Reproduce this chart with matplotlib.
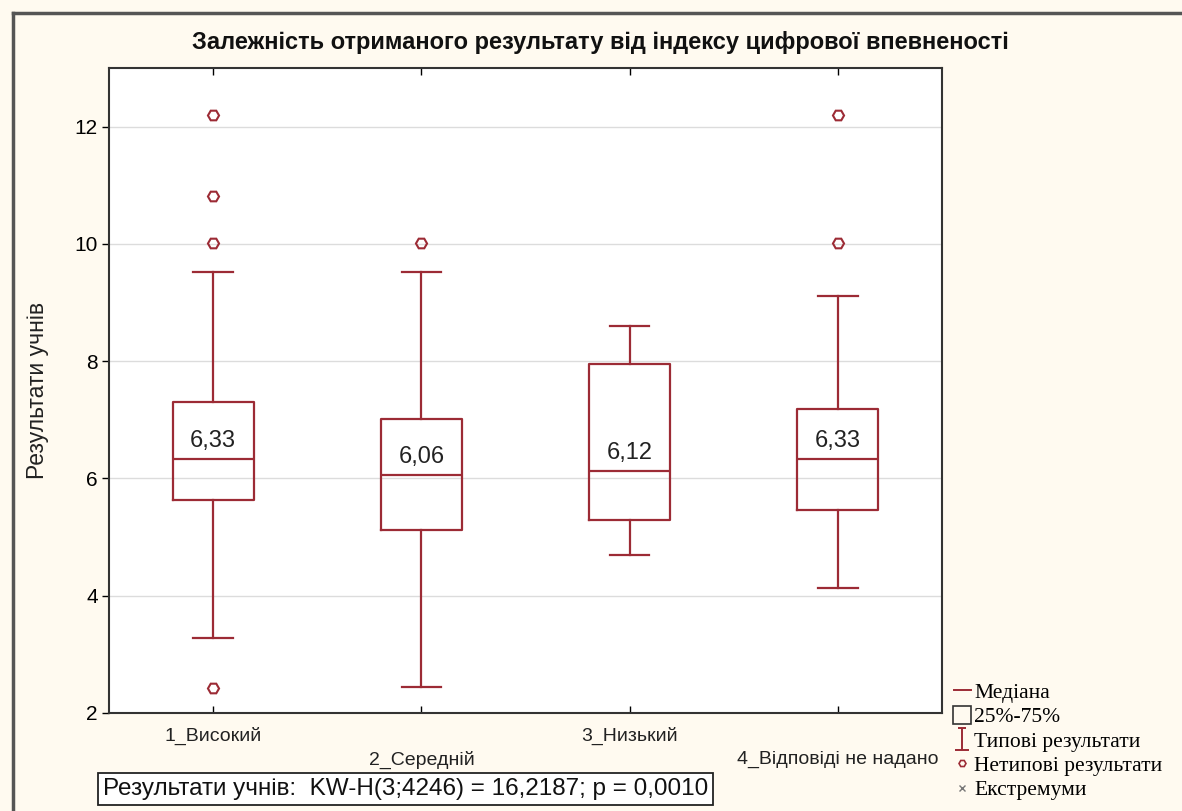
import matplotlib
matplotlib.use("Agg")
from matplotlib import pyplot as plt
from matplotlib.lines import Line2D
from matplotlib.path import Path

# -------------------- Data --------------------
categories = ["1_Високий", "2_Середній", "3_Низький", "4_Відповіді не надано"]
medians = [6.33, 6.06, 6.12, 6.33]
q1 = [5.63, 5.12, 5.29, 5.46]
q3 = [7.31, 7.01, 7.96, 7.18]
whisker_low = [3.28, 2.45, 4.69, 4.13]
whisker_high = [9.52, 9.52, 8.60, 9.12]
outliers = [[12.19, 10.82, 10.02, 2.43], [10.02], [], [12.19, 10.02]]
median_labels = ["6,33", "6,06", "6,12", "6,33"]

title = "Залежність отриманого результату від індексу цифрової впевненості"
y_label = "Результати учнів"
stat_text = "Результати учнів:  KW-H(3;4246) = 16,2187; p = 0,0010"
legend_labels = ["Медіана", "25%-75%", "Типові результати",
                 "Нетипові результати", "Екстремуми"]

# -------------------- Style --------------------
RED = "#9C2B35"
BG = "#FFFAF0"
SANS = ["Liberation Sans", "DejaVu Sans"]
SERIF = ["Liberation Serif", "DejaVu Serif"]

fig = plt.figure(figsize=(11.82, 8.11), dpi=100, facecolor=BG)
ax = fig.add_axes([109 / 1182, 1 - 713 / 811, (942 - 109) / 1182, (713 - 68) / 811])
ax.set_facecolor("white")

stats = []
for i in range(len(categories)):
    stats.append({
        "med": medians[i], "q1": q1[i], "q3": q3[i],
        "whislo": whisker_low[i], "whishi": whisker_high[i],
        "fliers": outliers[i],
    })

positions = list(range(1, len(categories) + 1))
ax.bxp(stats, positions=positions, widths=0.39, showfliers=True,
       boxprops=dict(color=RED, linewidth=1.6),
       medianprops=dict(color=RED, linewidth=1.6),
       whiskerprops=dict(color=RED, linewidth=1.6),
       capprops=dict(color=RED, linewidth=1.6),
       capwidths=0.19,
       flierprops=dict(marker="H", markersize=8, markerfacecolor="none",
                       markeredgecolor=RED, markeredgewidth=1.5))

for pos, med, lab in zip(positions, medians, median_labels):
    ax.text(pos, med + 0.12, lab, ha="center", va="bottom", fontsize=17,
            family=SANS, color="#222222")

ax.set_xlim(0.5, 4.5)
ax.set_ylim(2, 13)
ax.set_yticks([2, 4, 6, 8, 10, 12])
ax.set_yticklabels(["2", "4", "6", "8", "10", "12"], family=SANS, fontsize=15)
ax.yaxis.grid(True, color="#dcdcdc", linewidth=1)
ax.set_axisbelow(True)
ax.tick_params(axis="y", direction="out", length=5, width=1, pad=3)
ax.tick_params(axis="x", direction="in", length=5, width=1, top=True,
               labelbottom=False)
ax.set_xticks(positions)
for spine in ax.spines.values():
    spine.set_linewidth(1.5)
    spine.set_color("#333333")

# staggered category labels
for pos, cat in zip(positions, categories):
    y_off = -0.036 if pos % 2 == 1 else -0.072
    ax.text(pos, y_off, cat, transform=ax.get_xaxis_transform(),
            ha="center", va="center", fontsize=14, family=SANS, color="#222222")

fig.text(0.508, 1 - 42 / 811, title, ha="center", va="center",
         fontsize=17, fontweight="bold", family=SANS, color="#111111")
fig.text(38 / 1182, 1 - 390 / 811, y_label, rotation=90, ha="center",
         va="center", fontsize=16.5, family=SANS, color="#222222")

fig.text(103 / 1182, 1 - 789 / 811, stat_text, ha="left", va="center",
         fontsize=17.5, family=SANS, color="#111111",
         bbox=dict(boxstyle="square,pad=0.2", facecolor="white",
                   edgecolor="#222222", linewidth=1.3))

# legend
i_marker = Path([(-0.35, 1), (0.35, 1), (0, 1), (0, -1), (-0.6, -1), (0.6, -1)],
                [Path.MOVETO, Path.LINETO, Path.MOVETO, Path.LINETO,
                 Path.MOVETO, Path.LINETO])
handles = [
    Line2D([], [], color=RED, linewidth=1.4),
    Line2D([], [], linestyle="none", marker="s", markersize=13,
           markerfacecolor="none", markeredgecolor="#333333", markeredgewidth=1.2),
    Line2D([], [], linestyle="none", marker=i_marker, markersize=16,
           markerfacecolor="none", markeredgecolor=RED, markeredgewidth=1.4),
    Line2D([], [], linestyle="none", marker="H", markersize=5,
           markerfacecolor="none", markeredgecolor=RED, markeredgewidth=1.2),
    Line2D([], [], linestyle="none", marker="x", markersize=4,
           color="#777777"),
]
fig.legend(handles, legend_labels, loc="upper left",
           bbox_to_anchor=(943 / 1182, 1 - 672 / 811), frameon=False,
           prop={"family": SERIF, "size": 15.5}, handlelength=0.8,
           handletextpad=0.15, labelspacing=0.2, borderpad=0)

# outer frame lines
fig.add_artist(Line2D([13 / 1182, 1], [1 - 13 / 811, 1 - 13 / 811],
                      color="#555555", linewidth=2.5))
fig.add_artist(Line2D([13 / 1182, 13 / 1182], [0, 1 - 13 / 811],
                      color="#555555", linewidth=2.5))

fig.savefig("out.png", dpi=100, facecolor=BG)
